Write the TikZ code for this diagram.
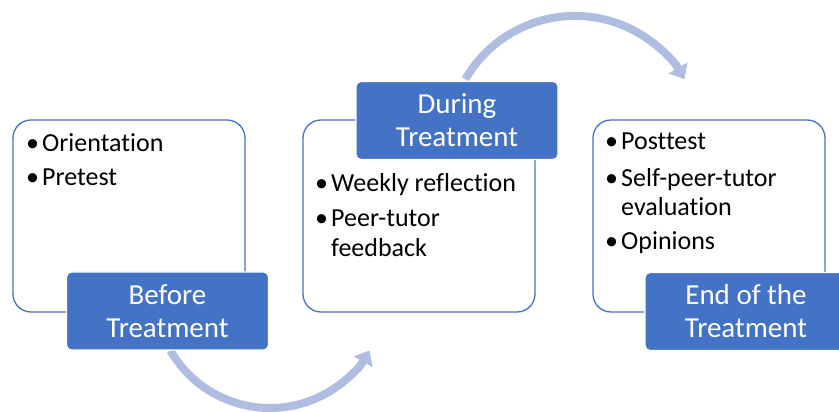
\documentclass[tikz,border=0pt]{standalone}
\usepackage{fontspec}
\setmainfont{Carlito}[Ligatures=NoCommon]
\usetikzlibrary{arrows.meta}
\definecolor{accent}{RGB}{68,114,196}
\definecolor{arcblue}{RGB}{175,189,224}
\newcommand{\bul}{\makebox[16pt][l]{•}}
\begin{document}
\begin{tikzpicture}[x=1pt,y=1pt,
  panel/.style={draw=accent, line width=1.3pt, fill=white, rounded corners=18pt, minimum width=232pt, minimum height=192pt, inner sep=0pt},
  tag/.style={fill=accent, draw=white, line width=1.2pt, rounded corners=5pt, minimum width=202pt, minimum height=78pt, text=white, font=\fontsize{29}{33}\selectfont, align=center, inner sep=0pt},
  item/.style={anchor=base west, inner sep=0pt, font=\fontsize{26}{30}\selectfont},
  flow/.style={draw=arcblue, line width=8pt, -{Triangle[width=21pt,length=13pt]}}
]
\useasboundingbox (0,0) rectangle (839,412);
\clip (0,0) rectangle (839,412);
\fill[white] (0,0) rectangle (839,412);

% arcs
\coordinate (s1) at (170.4,61.5);
\coordinate (s2) at (465.4,332.8);
\draw[flow] (s1) arc[start angle=210, end angle=330, radius=115];
\draw[flow] (s2) arc[start angle=150, end angle=30, radius=126.5];

% panels
\node[panel] (b1) at (129,196) {};
\node[panel] (b2) at (419,196) {};
\node[panel] (b3) at (709,196) {};

% tags
\node[tag] (l1) at (167.5,101) {Before\\Treatment};
\node[tag] (l2) at (457,291.5) {During\\Treatment};
\node[tag] (l3) at (746,100.5) {End of the\\Treatment};

% items box 1
\node[item] (i11) at (26,260) {\bul Orientation};
\node[item] (i12) at (26,226) {\bul Pretest};

% items box 2
\node[item] (i21) at (315,220) {\bul Weekly reflection};
\node[item] (i22) at (315,185) {\bul Peer-tutor};
\node[item] (i23) at (331,155) {feedback};

% items box 3
\node[item] (i31) at (605,262) {\bul Posttest};
\node[item] (i32) at (605,225) {\bul Self-peer-tutor};
\node[item] (i33) at (621,196) {evaluation};
\node[item] (i34) at (605,162) {\bul Opinions};
\end{tikzpicture}
\end{document}
